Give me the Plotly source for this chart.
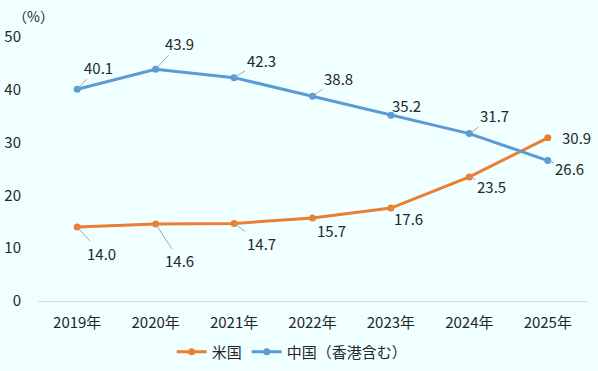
import plotly.graph_objects as go

years = ["2019年", "2020年", "2021年", "2022年", "2023年", "2024年", "2025年"]
us = [14.0, 14.6, 14.7, 15.7, 17.6, 23.5, 30.9]
china = [40.1, 43.9, 42.3, 38.8, 35.2, 31.7, 26.6]
us_name = "米国"
china_name = "中国（香港含む）"

FONT = "Noto Sans CJK JP"
TXT = "#262626"
ORANGE = "#ED7D31"
BLUE = "#5B9BD5"
BG = "#F0FFFF"

fig = go.Figure()
fig.add_trace(go.Scatter(x=years, y=us, name=us_name, mode="lines+markers",
                         line=dict(color=ORANGE, width=3), marker=dict(size=7, color=ORANGE)))
fig.add_trace(go.Scatter(x=years, y=china, name=china_name, mode="lines+markers",
                         line=dict(color=BLUE, width=3), marker=dict(size=7, color=BLUE)))

# label offsets (pixels) for leader-line annotations
china_off = [(21, -22), (24, -26), (27, -17), (26, -18), (16, -10), (25, -18), (22, 8)]
us_off = [(24, 26), (24, 37), (27, 20), (19, 12), (18, 10), (22, 10), None]

anns = []
for yr, v, off in zip(years, china, china_off):
    anns.append(dict(x=yr, y=v, text=f"{v:.1f}", ax=off[0], ay=off[1], showarrow=True,
                     arrowhead=0, arrowwidth=1, arrowcolor="#A6A6A6", standoff=0,
                     font=dict(family=FONT, size=15, color=TXT)))
for yr, v, off in zip(years, us, us_off):
    if off is None:
        anns.append(dict(x=yr, y=v, text=f"{v:.1f}", showarrow=False, xshift=29,
                         font=dict(family=FONT, size=15, color=TXT)))
    else:
        anns.append(dict(x=yr, y=v, text=f"{v:.1f}", ax=off[0], ay=off[1], showarrow=True,
                         arrowhead=0, arrowwidth=1, arrowcolor="#A6A6A6", standoff=0,
                         font=dict(family=FONT, size=15, color=TXT)))
anns.append(dict(xref="paper", yref="paper", x=-0.009, y=1.0, yanchor="middle", yshift=21,
                 text="（%）", showarrow=False, xanchor="center",
                 font=dict(family=FONT, size=14, color=TXT)))

fig.update_layout(
    width=598, height=371,
    paper_bgcolor=BG, plot_bgcolor=BG,
    margin=dict(l=38, r=11, t=37, b=70, autoexpand=False),
    font=dict(family=FONT, size=15, color=TXT),
    showlegend=True,
    legend=dict(orientation="h", x=0.463, xanchor="center", y=-0.193, yanchor="middle",
                font=dict(family=FONT, size=15, color=TXT), bgcolor="rgba(0,0,0,0)",
                itemwidth=30),
    annotations=anns,
)
fig.update_xaxes(showgrid=False, showline=True, linecolor="#D9D9D9", linewidth=1,
                 ticks="", ticklabelstandoff=8, range=[-0.5, 6.5], automargin=False)
fig.update_yaxes(range=[0, 50], dtick=10, showgrid=False, zeroline=False, showline=False,
                 ticks="", ticklabelstandoff=16, automargin=False)

fig.write_html("out.html", config={"displayModeBar": False},
               post_script="document.body.style.margin='0';document.body.style.background='#F0FFFF';")
